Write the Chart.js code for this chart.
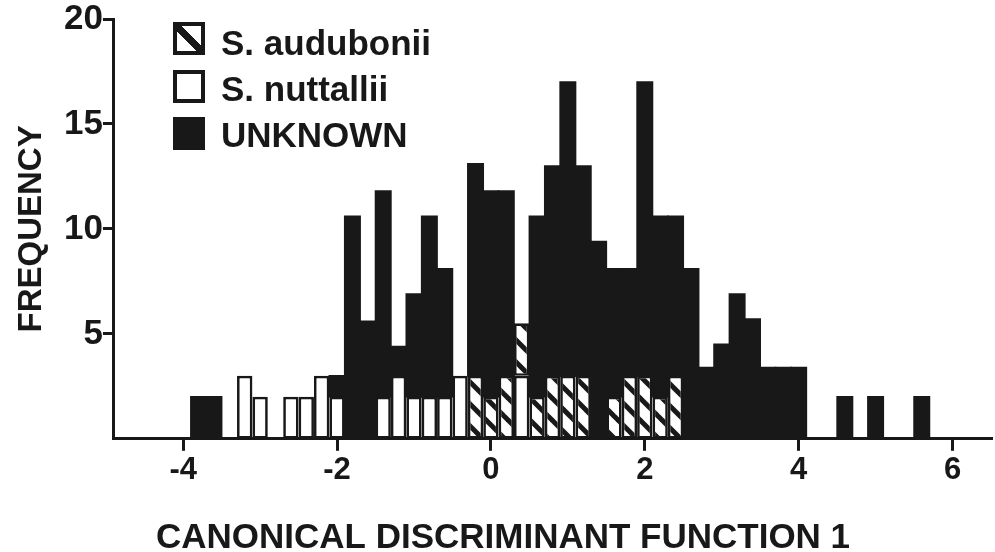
<!DOCTYPE html>
<html>
<head>
<meta charset="utf-8">
<script src="https://cdn.jsdelivr.net/npm/chart.js@4.4.1/dist/chart.umd.min.js"></script>
<style>
  html, body { margin: 0; padding: 0; background: #ffffff; }
  #wrap { position: relative; width: 995px; height: 552px; overflow: hidden; }
  canvas { display: block; }
  .leg-text { position: absolute; font: bold 35px "Liberation Sans", Arial, sans-serif; line-height: 35px; color: #181818; white-space: nowrap; }
  .leg-box { position: absolute; box-sizing: border-box; width: 32px; height: 33px; border: 4px solid #181818; background: #ffffff; }
</style>
</head>
<body>
<div id="wrap">
  <canvas id="chart" width="995" height="552"></canvas>
  <div id="legend"></div>
</div>
<script>
// ---- data (bin width 0.2, bins centred on these values) ----
const binCenters = [-3.8,-3.6,-3.4,-3.2,-3.0,-2.8,-2.6,-2.4,-2.2,-2.0,-1.8,-1.6,-1.4,-1.2,-1.0,-0.8,-0.6,-0.4,-0.2,0.0,0.2,0.4,0.6,0.8,1.0,1.2,1.4,1.6,1.8,2.0,2.2,2.4,2.6,2.8,3.0,3.2,3.4,3.6,3.8,4.0,4.2,4.4,4.6,4.8,5.0,5.2,5.4,5.6];
const nuttallii = [0,0,0,3,2,0,2,2,3,2,0,0,2,3,2,2,2,3,0,0,0,3,0,0,0,0,0,0,0,0,0,0,0,0,0,0,0,0,0,0,0,0,0,0,0,0,0,0];
const audubonii = [0,0,0,0,0,0,0,0,0,0,0,0,0,0,0,0,0,0,3,2,3,2.5,2,3,3,3,0,2,3,3,2,3,0,0,0,0,0,0,0,0,0,0,0,0,0,0,0,0];
const unknown   = [2,2,0,0,0,0,0,0,0,1,10.6,5.6,9.8,1.4,4.9,8.6,6.1,0,10.1,9.8,8.8,0,8.6,10,14,10,9.4,6.1,5.1,14,8.6,7.6,8.1,3.4,4.5,6.9,5.7,3.4,3.4,3.4,0,0,2,0,2,0,0,2];
const xTickLabels = [-4, -2, 0, 2, 4, 6];
const yTickLabels = [5, 10, 15, 20];
const seriesNames = { aud: 'S. audubonii', nut: 'S. nuttallii', unk: 'UNKNOWN' };
const xTitle = 'CANONICAL DISCRIMINANT FUNCTION 1';
const yTitle = 'FREQUENCY';

const INK = '#181818';
const FONT = '"Liberation Sans", Arial, sans-serif';

function makeHatch() {
  const s = 22;
  const c = document.createElement('canvas');
  c.width = s; c.height = s;
  const g = c.getContext('2d');
  g.fillStyle = '#ffffff';
  g.fillRect(0, 0, s, s);
  g.strokeStyle = INK;
  g.lineWidth = 5;
  for (const k of [-s, 0, s]) {
    g.beginPath();
    g.moveTo(-3, -3 + k);
    g.lineTo(s + 3, s + 3 + k);
    g.stroke();
  }
  return g.createPattern(c, 'repeat');
}
const hatch = makeHatch();

const toPoints = arr => binCenters.map((x, i) => ({ x: x, y: arr[i] ? arr[i] : null }));

Chart.defaults.font.family = FONT;
Chart.defaults.color = INK;

new Chart(document.getElementById('chart'), {
  type: 'bar',
  data: {
    datasets: [
      { label: seriesNames.nut, data: toPoints(nuttallii), stack: 'all', backgroundColor: '#ffffff', borderColor: INK, borderWidth: 2.7, borderSkipped: false, inflateAmount: 0 },
      { label: seriesNames.aud, data: toPoints(audubonii), stack: 'all', backgroundColor: hatch, borderColor: INK, borderWidth: 2.7, borderSkipped: false, inflateAmount: 0 },
      { label: seriesNames.unk, data: toPoints(unknown), stack: 'all', backgroundColor: INK, borderWidth: 0, inflateAmount: 0.8 }
    ]
  },
  options: {
    responsive: false,
    animation: false,
    barPercentage: 1,
    categoryPercentage: 1,
    layout: { padding: { left: 15, right: 4, top: 19, bottom: 0 } },
    plugins: {
      legend: { display: false },
      tooltip: { enabled: false },
      title: {
        display: true,
        position: 'bottom',
        text: xTitle,
        color: INK,
        font: { family: FONT, size: 35, weight: 'bold', lineHeight: 0.8 },
        padding: { top: 34, bottom: 0 }
      }
    },
    scales: {
      x: {
        type: 'linear',
        min: -4.9,
        max: 6.5,
        offset: false,
        afterBuildTicks: s => { s.ticks = xTickLabels.map(v => ({ value: v })); },
        grid: { offset: false, drawOnChartArea: false, drawTicks: true, tickLength: 12, lineWidth: 3, color: INK },
        border: { display: true, color: INK, width: 3 },
        ticks: { color: INK, padding: 1, autoSkip: false, maxRotation: 0, font: { family: FONT, size: 31, weight: 'bold', lineHeight: 1.2 } }
      },
      y: {
        type: 'linear',
        min: 0,
        max: 20,
        stacked: true,
        afterBuildTicks: s => { s.ticks = yTickLabels.map(v => ({ value: v })); },
        grid: { drawOnChartArea: false, drawTicks: true, tickLength: 11, lineWidth: 3, color: INK },
        border: { display: true, color: INK, width: 3 },
        ticks: { color: INK, padding: 0, font: { family: FONT, size: 35, weight: 'bold', lineHeight: 1 } },
        title: {
          display: true,
          text: yTitle,
          color: INK,
          font: { family: FONT, size: 33, weight: 'bold', lineHeight: 1 },
          padding: { top: 0, bottom: 16 }
        }
      }
    }
  }
});

// legend (HTML, real text), order as in the figure
const legendItems = [
  { name: seriesNames.aud, kind: 'hatch', boxTop: 22, textTop: 25 },
  { name: seriesNames.nut, kind: 'white', boxTop: 70, textTop: 71 },
  { name: seriesNames.unk, kind: 'black', boxTop: 117, textTop: 117 }
];
const legendEl = document.getElementById('legend');
for (const it of legendItems) {
  const b = document.createElement('div');
  b.className = 'leg-box';
  b.style.left = '173px';
  b.style.top = it.boxTop + 'px';
  if (it.kind === 'black') b.style.background = INK;
  if (it.kind === 'hatch') b.style.background = 'linear-gradient(to top right, #fff calc(50% - 3.5px), ' + INK + ' calc(50% - 3.5px), ' + INK + ' calc(50% + 3.5px), #fff calc(50% + 3.5px))';
  legendEl.appendChild(b);
  const t = document.createElement('div');
  t.className = 'leg-text';
  t.style.left = '221px';
  t.style.top = it.textTop + 'px';
  t.textContent = it.name;
  legendEl.appendChild(t);
}
</script>
</body>
</html>
